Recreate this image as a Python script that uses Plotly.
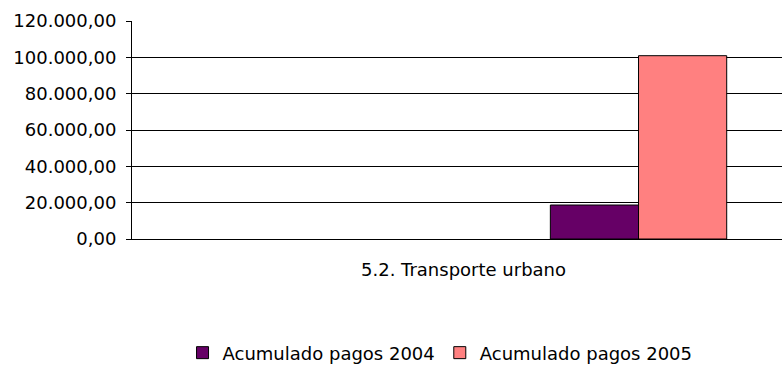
import plotly.graph_objects as go

# Data
categories = ["5.2. Transporte urbano"]
series_names = ["Acumulado pagos 2004", "Acumulado pagos 2005"]
pagos_2004 = [18700]
pagos_2005 = [100900]
y_ticks = [0, 20000, 40000, 60000, 80000, 100000, 120000]

FONT = "DejaVu Sans"
BAR_W = 0.133

fig = go.Figure()
fig.add_trace(go.Bar(
    name=series_names[0], x=categories, y=pagos_2004,
    width=BAR_W, offset=0.131,
    marker=dict(color="#660066", line=dict(color="black", width=1)),
))
fig.add_trace(go.Bar(
    name=series_names[1], x=categories, y=pagos_2005,
    width=BAR_W, offset=0.264,
    marker=dict(color="#FF8080", line=dict(color="black", width=1)),
))

fig.update_layout(
    width=782, height=365,
    margin=dict(l=132, r=0, t=21, b=126, autoexpand=False),
    paper_bgcolor="white", plot_bgcolor="white",
    separators=",.",
    font=dict(family=FONT, size=18, color="black"),
    barmode="group",
    hovermode=False,
    showlegend=True,
    legend=dict(
        orientation="h", xref="container", yref="container",
        x=0.5627, y=0.033, xanchor="center", yanchor="middle",
        font=dict(family=FONT, size=18, color="black"),
        itemwidth=30, tracegroupgap=0, bgcolor="rgba(0,0,0,0)",
    ),
)

fig.update_yaxes(
    range=[0, 120000], tickvals=y_ticks, tickformat=",.2f",
    showgrid=True, gridcolor="black", gridwidth=1,
    showline=True, linecolor="black", linewidth=1,
    ticks="outside", ticklen=5, tickcolor="black",
    ticklabelstandoff=6, zeroline=False,
    tickfont=dict(family=FONT, size=18, color="black"),
)
fig.update_xaxes(
    type="category", range=[-0.5, 0.4804],
    showline=True, linecolor="black", linewidth=1,
    ticks="", showgrid=False, ticklabelstandoff=14,
    tickfont=dict(family=FONT, size=18, color="black"),
)

fig.write_html("out.html")
